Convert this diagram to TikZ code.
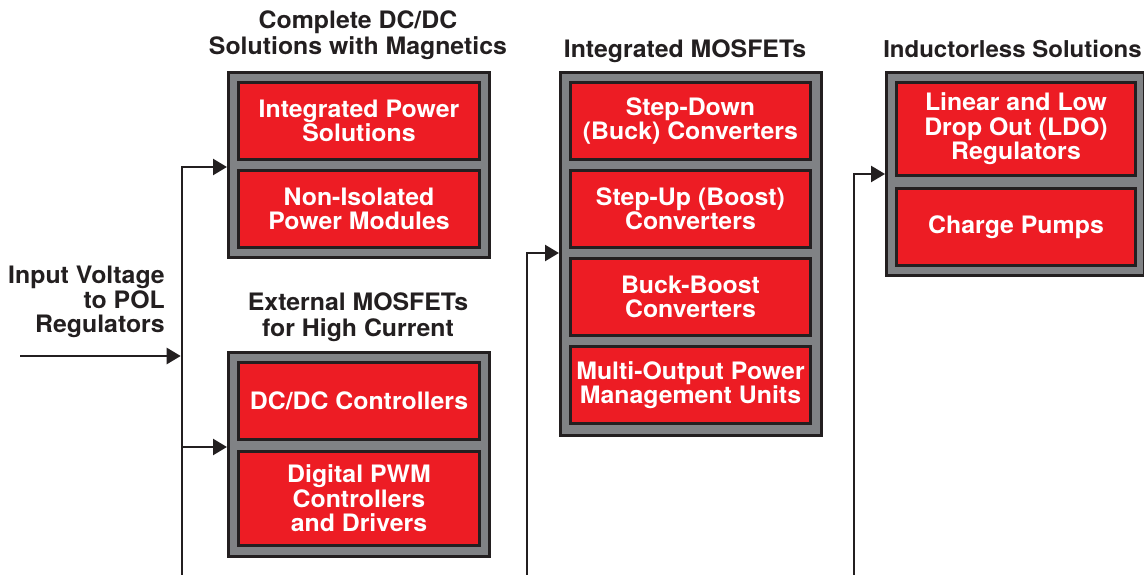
\documentclass[tikz,border=0pt]{standalone}
\usepackage{fontspec}
\setmainfont{TeX Gyre Heros}[FakeStretch=1.035]
\usetikzlibrary{arrows.meta,calc}
\definecolor{tired}{HTML}{ED1C24}
\definecolor{tigray}{HTML}{808285}
\definecolor{tidark}{HTML}{231F20}
\begin{document}
\begin{tikzpicture}[x=1pt,y=-1pt,
  outerbox/.style={draw=tidark, fill=tigray, line width=3pt, inner sep=0pt, minimum width=261pt},
  redbox/.style={draw=tidark, fill=tired, line width=3pt, inner sep=0pt, text=white,
    font=\fontsize{24}{24.5}\selectfont\bfseries, align=center, minimum width=241pt, minimum height=77pt},
  title/.style={text=tidark, font=\fontsize{24}{26.5}\selectfont\bfseries, align=center, inner sep=0pt},
  conn/.style={draw=tidark, line width=2.5pt},
  arr/.style={conn, -{Triangle[length=14pt,width=16pt]}}]
\useasboundingbox[fill=white] (0,0) rectangle (1144,575);

% group 1
\node[outerbox, minimum height=185pt] (g1) at (359,165) {};
\node[redbox] (r11) at (359,121) {Integrated Power\\Solutions};
\node[redbox] (r12) at (359,209) {Non-Isolated\\Power Modules};
\node[title] (t1) at (358,35) {Complete DC/DC\\Solutions with Magnetics};

% group 2
\node[outerbox, minimum height=204pt] (g2) at (359,454.5) {};
\node[redbox] (r21) at (359,401) {DC/DC Controllers};
\node[redbox, minimum height=94pt] (r22) at (359,498.5) {Digital PWM\\Controllers\\and Drivers};
\node[title] (t2) at (358,317) {External MOSFETs\\for High Current};

% group 3
\node[outerbox, minimum height=363pt] (g3) at (691,254) {};
\node[redbox, minimum width=240pt] (r31) at (690.5,121) {Step-Down\\(Buck) Converters};
\node[redbox, minimum width=240pt] (r32) at (690.5,209) {Step-Up (Boost)\\Converters};
\node[redbox, minimum width=240pt] (r33) at (690.5,297) {Buck-Boost\\Converters};
\node[redbox, minimum width=240pt] (r34) at (690.5,385) {Multi-Output Power\\Management Units};
\node[title, anchor=base] (t3) at (685,58) {Integrated MOSFETs};

% group 4
\node[outerbox, minimum width=258pt, minimum height=203pt] (g4) at (1015.5,174) {};
\node[redbox, minimum width=239pt, minimum height=93pt] (r41) at (1016,129) {Linear and Low\\Drop Out (LDO)\\Regulators};
\node[redbox, minimum width=239pt] (r42) at (1016,227) {Charge Pumps};
\node[title, anchor=base, font=\fontsize{23.2}{26}\selectfont\bfseries] (t4) at (1012.5,57.5) {Inductorless Solutions};

% input label
\node[title, anchor=east, align=right, font=\fontsize{24}{24.4}\selectfont\bfseries] (in) at (165,302)
  {Input Voltage\\to POL\hspace*{0.3em}\\Regulators};

% connectors
\coordinate (src) at (20,356);
\coordinate (j1) at (182,580);
\coordinate (j3) at (527,580);
\coordinate (j4) at (854,580);

\draw[arr] (j1) |- ($(g1.west)+(0,2)$);
\draw[arr] ($(j1 |- g2.west)+(0,-7.5)$) -- ($(g2.west)+(0,-7.5)$);
\draw[arr] (src) -- ($(src -| j1)+(-1.3,0)$);
\draw[arr] (j3) |- ($(g3.west)+(0,-1)$);
\draw[arr] (j4) |- (g4.west);
\end{tikzpicture}
\end{document}
